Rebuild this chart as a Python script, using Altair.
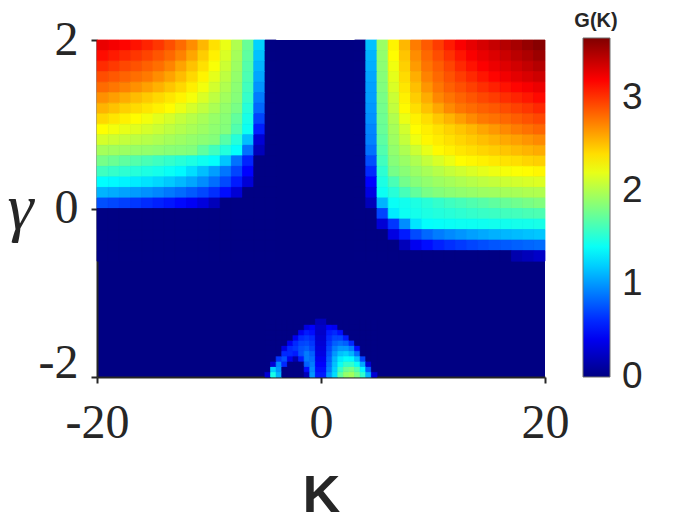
import altair as alt
import pandas as pd

# ---- grid cell centres -------------------------------------------------
K_LEFT = [-19.5, -18.5, -17.5, -16.5, -15.5, -14.5, -13.5, -12.5,
          -11.5, -10.5, -9.5, -8.5, -7.5, -6.5, -5.5, -4.5]
K_RIGHT = [3.5, 4.5, 5.5, 6.5, 7.5, 8.5, 9.5, 10.5, 11.5, 12.5,
           13.5, 14.5, 15.5, 16.5, 17.5, 18.5, 19.5]
GAMMA_MAIN = [1.9375, 1.8125, 1.6875, 1.5625, 1.4375, 1.3125, 1.1875,
              1.0625, 0.9375, 0.8125, 0.6875, 0.5625, 0.4375, 0.3125,
              0.1875, 0.0625, -0.0625, -0.1875, -0.3125, -0.4375, -0.5625]
K_ARCH = [-4.75, -4.25, -3.75, -3.25, -2.75, -2.25, -1.75, -1.25, -0.75, -0.25,
          0.25, 0.75, 1.25, 1.75, 2.25, 2.75, 3.25, 3.75, 4.25, 4.75]
GAMMA_ARCH = [-1.96875, -1.90625, -1.84375, -1.78125, -1.71875, -1.65625,
              -1.59375, -1.53125, -1.46875, -1.40625, -1.34375]

# ---- G(K) values -------------------------------------------------------
G_LEFT = [
    [3.27, 3.23, 3.18, 3.13, 3.07, 3.0, 2.91, 2.81, 2.69, 2.54, 2.39, 2.21, 2.0, 1.74, 1.21, 0],
    [3.15, 3.1, 3.05, 3.0, 2.95, 2.89, 2.82, 2.73, 2.6, 2.46, 2.33, 2.15, 1.96, 1.71, 1.15, 0],
    [3.04, 2.99, 2.94, 2.9, 2.85, 2.8, 2.72, 2.61, 2.5, 2.39, 2.26, 2.1, 1.93, 1.67, 1.1, 0],
    [2.92, 2.88, 2.84, 2.8, 2.76, 2.69, 2.61, 2.52, 2.42, 2.32, 2.19, 2.05, 1.9, 1.64, 1.05, 0],
    [2.81, 2.77, 2.73, 2.68, 2.62, 2.56, 2.49, 2.42, 2.34, 2.24, 2.12, 2.0, 1.87, 1.6, 0.99, 0],
    [2.68, 2.63, 2.58, 2.52, 2.47, 2.42, 2.37, 2.32, 2.25, 2.15, 2.05, 1.95, 1.85, 1.56, 0.9, 0],
    [2.55, 2.5, 2.45, 2.41, 2.37, 2.33, 2.29, 2.21, 2.13, 2.06, 1.98, 1.9, 1.8, 1.5, 0.83, 0],
    [2.42, 2.37, 2.33, 2.29, 2.24, 2.18, 2.13, 2.07, 2.02, 1.97, 1.91, 1.86, 1.72, 1.45, 0.7, 0],
    [2.28, 2.24, 2.2, 2.17, 2.13, 2.09, 2.05, 2.01, 1.97, 1.93, 1.88, 1.84, 1.66, 1.41, 0.56, 0],
    [2.13, 2.1, 2.07, 2.04, 2.02, 1.99, 1.96, 1.93, 1.9, 1.87, 1.84, 1.68, 1.5, 1.14, 0.3, 0],
    [1.96, 1.94, 1.93, 1.91, 1.9, 1.88, 1.86, 1.85, 1.83, 1.71, 1.6, 1.49, 1.38, 0.86, 0.2, 0],
    [1.79, 1.75, 1.71, 1.67, 1.63, 1.59, 1.55, 1.51, 1.47, 1.42, 1.38, 1.16, 0.86, 0.58, 0, 0],
    [1.59, 1.56, 1.53, 1.5, 1.47, 1.44, 1.4, 1.35, 1.25, 1.14, 1.02, 0.88, 0.7, 0.46, 0, 0],
    [1.37, 1.35, 1.33, 1.3, 1.27, 1.23, 1.18, 1.12, 1.05, 0.96, 0.85, 0.72, 0.55, 0.3, 0, 0],
    [1.1, 1.07, 1.04, 1.01, 0.98, 0.94, 0.89, 0.84, 0.78, 0.71, 0.62, 0.5, 0.3, 0, 0, 0],
    [0.74, 0.71, 0.68, 0.65, 0.61, 0.57, 0.53, 0.48, 0.42, 0.33, 0.2, 0, 0, 0, 0, 0],
    [0] * 16,
    [0] * 16,
    [0] * 16,
    [0] * 16,
    [0] * 16,
]

G_RIGHT = [
    [0, 1.15, 1.92, 2.32, 2.54, 2.75, 2.87, 2.98, 3.1, 3.21, 3.28, 3.34, 3.4, 3.46, 3.51, 3.57, 3.62],
    [0, 1.1, 1.89, 2.29, 2.49, 2.69, 2.82, 2.92, 3.02, 3.12, 3.21, 3.27, 3.32, 3.38, 3.44, 3.49, 3.55],
    [0, 1.08, 1.87, 2.23, 2.45, 2.64, 2.78, 2.86, 2.95, 3.05, 3.13, 3.2, 3.26, 3.31, 3.36, 3.41, 3.46],
    [0, 1.05, 1.85, 2.19, 2.41, 2.57, 2.73, 2.82, 2.9, 2.98, 3.05, 3.12, 3.18, 3.24, 3.29, 3.33, 3.37],
    [0, 1.03, 1.83, 2.15, 2.37, 2.51, 2.66, 2.77, 2.85, 2.91, 2.97, 3.03, 3.08, 3.13, 3.18, 3.22, 3.26],
    [0, 1.02, 1.8, 2.09, 2.33, 2.46, 2.58, 2.71, 2.78, 2.84, 2.89, 2.94, 2.98, 3.03, 3.07, 3.11, 3.16],
    [0, 1.0, 1.78, 2.06, 2.3, 2.4, 2.5, 2.6, 2.7, 2.77, 2.81, 2.85, 2.88, 2.92, 2.96, 3.0, 3.05],
    [0, 0.98, 1.76, 2.0, 2.21, 2.33, 2.4, 2.48, 2.55, 2.63, 2.7, 2.76, 2.79, 2.82, 2.86, 2.9, 2.94],
    [0, 0.94, 1.74, 1.96, 2.12, 2.29, 2.34, 2.39, 2.44, 2.49, 2.54, 2.6, 2.65, 2.7, 2.75, 2.79, 2.83],
    [0, 0.92, 1.7, 1.93, 2.07, 2.22, 2.31, 2.35, 2.39, 2.43, 2.47, 2.51, 2.55, 2.59, 2.62, 2.66, 2.7],
    [0, 0.86, 1.66, 1.89, 1.99, 2.1, 2.2, 2.3, 2.33, 2.37, 2.4, 2.43, 2.46, 2.49, 2.52, 2.55, 2.58],
    [0, 0.73, 1.6, 1.85, 1.92, 1.99, 2.07, 2.14, 2.21, 2.29, 2.31, 2.33, 2.36, 2.38, 2.4, 2.43, 2.45],
    [0, 0.6, 1.53, 1.79, 1.86, 1.92, 1.97, 2.02, 2.07, 2.11, 2.15, 2.19, 2.22, 2.25, 2.27, 2.29, 2.31],
    [0, 0.46, 1.47, 1.63, 1.78, 1.85, 1.89, 1.93, 1.96, 1.99, 2.02, 2.05, 2.07, 2.1, 2.12, 2.14, 2.16],
    [0, 0.35, 1.41, 1.51, 1.62, 1.72, 1.8, 1.84, 1.87, 1.89, 1.91, 1.93, 1.94, 1.96, 1.97, 1.99, 2.0],
    [0, 0.2, 1.1, 1.4, 1.43, 1.47, 1.51, 1.55, 1.59, 1.62, 1.65, 1.68, 1.71, 1.74, 1.77, 1.8, 1.83],
    [0, 0, 0.7, 1.3, 1.41, 1.44, 1.47, 1.49, 1.51, 1.53, 1.55, 1.57, 1.58, 1.6, 1.61, 1.63, 1.64],
    [0, 0, 0.3, 0.65, 0.96, 1.28, 1.38, 1.39, 1.4, 1.41, 1.41, 1.42, 1.43, 1.43, 1.44, 1.44, 1.45],
    [0, 0, 0, 0.35, 0.55, 0.72, 0.83, 0.9, 0.95, 0.99, 1.03, 1.06, 1.09, 1.11, 1.13, 1.15, 1.17],
    [0, 0, 0, 0, 0.2, 0.4, 0.5, 0.57, 0.62, 0.66, 0.7, 0.73, 0.76, 0.78, 0.8, 0.82, 0.84],
    [0, 0, 0, 0, 0, 0, 0, 0, 0, 0, 0, 0, 0, 0, 0.15, 0.2, 0.25],
]

G_ARCH = [
    [0.3, 1.45, 1.1, 0, 0, 0, 0, 0.2, 1.0, 0.55, 0.55, 1.0, 1.25, 1.7, 1.9, 1.95, 1.8, 1.55, 1.1, 0.3],
    [0, 1.2, 1.0, 0, 0, 0, 0, 0.5, 0.95, 0.5, 0.5, 0.9, 1.2, 1.55, 1.75, 1.8, 1.65, 1.35, 0.8, 0],
    [0, 0.3, 0.95, 0.6, 0, 0, 0, 0.8, 0.9, 0.45, 0.45, 0.85, 1.15, 1.4, 1.55, 1.55, 1.4, 1.05, 0.3, 0],
    [0, 0, 0.65, 0.75, 0.4, 0.15, 0.55, 0.9, 0.85, 0.4, 0.4, 0.8, 1.1, 1.3, 1.38, 1.35, 1.15, 0.7, 0, 0],
    [0, 0, 0, 0.6, 0.6, 0.55, 0.75, 0.9, 0.8, 0.35, 0.35, 0.75, 1.0, 1.15, 1.2, 1.1, 0.85, 0, 0, 0],
    [0, 0, 0, 0.35, 0.6, 0.65, 0.75, 0.8, 0.7, 0.33, 0.33, 0.7, 0.9, 1.0, 1.0, 0.9, 0.5, 0, 0, 0],
    [0, 0, 0, 0, 0.4, 0.6, 0.7, 0.72, 0.65, 0.3, 0.3, 0.65, 0.8, 0.85, 0.8, 0.6, 0, 0, 0, 0],
    [0, 0, 0, 0, 0, 0.4, 0.6, 0.65, 0.6, 0.28, 0.28, 0.6, 0.7, 0.7, 0.55, 0, 0, 0, 0, 0],
    [0, 0, 0, 0, 0, 0, 0.4, 0.55, 0.5, 0.25, 0.25, 0.55, 0.6, 0.5, 0, 0, 0, 0, 0, 0],
    [0, 0, 0, 0, 0, 0, 0, 0.35, 0.45, 0.25, 0.25, 0.45, 0.4, 0, 0, 0, 0, 0, 0, 0],
    [0, 0, 0, 0, 0, 0, 0, 0, 0, 0.2, 0.2, 0, 0, 0, 0, 0, 0, 0, 0, 0],
]

# jet colour map: stop values of G and their colours
JET_DOMAIN = [-0.005, 0.45625, 1.36875, 2.28125, 3.19375, 3.65]
JET_DOMAIN_EDGE = [-0.005, 0.456, 1.369, 2.281, 3.194, 3.65]   # same map, for cell edges
JET_COLORS = ["#000083", "#0000ff", "#00ffff", "#ffff00", "#ff0000", "#800000"]
COLORBAR_TICKS = [0, 1, 2, 3]

# ---- build the table -----------------------------------------------------
rows = []


def add_block(ks, gs, vals, hk, hg):
    for gi, g in enumerate(gs):
        for ki, k in enumerate(ks):
            v = vals[gi][ki]
            rows.append({"k0": k - hk, "k1": k + hk, "g0": g - hg, "g1": g + hg,
                         "G": v, "Gedge": v})


add_block(K_LEFT, GAMMA_MAIN, G_LEFT, 0.5, 0.0625)
add_block(K_RIGHT, GAMMA_MAIN, G_RIGHT, 0.5, 0.0625)
add_block(K_ARCH, GAMMA_ARCH, G_ARCH, 0.25, 0.03125)
df = pd.DataFrame(rows)

INK = "#262626"
jet = alt.Scale(domain=JET_DOMAIN, range=JET_COLORS, interpolate="rgb", clamp=True)
jet_stroke = alt.Scale(domain=JET_DOMAIN_EDGE, range=JET_COLORS, interpolate="rgb", clamp=True)

y_label_baseline = {"condition": {"test": "datum.value == -2", "value": "alphabetic"},
                    "value": "middle"}

chart = alt.Chart(df).mark_rect(strokeWidth=0.8).encode(
    x=alt.X("k0:Q", scale=alt.Scale(domain=[-20, 20], nice=False, zero=False),
            axis=alt.Axis(values=[-20, 0, 20], labelExpr="'' + datum.value",
                          labelFont="Liberation Serif", labelFontSize=48, labelColor=INK,
                          labelBaseline="alphabetic", labelPadding=54, labelFlush=False,
                          labelOverlap=False,
                          tickSize=6, tickWidth=2, tickColor=INK,
                          domainColor=INK, domainWidth=2, grid=False,
                          title="K", titleFont="Liberation Sans", titleFontWeight="bold",
                          titleFontSize=52, titleColor=INK, titleX=224, titleY=134,
                          titleAlign="center", titleBaseline="alphabetic")),
    x2="k1:Q",
    y=alt.Y("g0:Q", scale=alt.Scale(domain=[-2, 2], nice=False, zero=False),
            axis=alt.Axis(values=[-2, 0, 2], labelExpr="'' + datum.value",
                          labelFont="Liberation Serif", labelFontSize=48, labelColor=INK,
                          labelBaseline=y_label_baseline, labelPadding=13, labelFlush=False,
                          labelOverlap=False,
                          tickSize=6, tickWidth=2, tickColor=INK,
                          domainColor=INK, domainWidth=2, grid=False,
                          title="γ", titleFont="Liberation Serif", titleFontStyle="italic",
                          titleFontWeight="normal", titleFontSize=66, titleColor=INK,
                          titleAngle=0, titleX=-77, titleY=188, titleAlign="center",
                          titleBaseline="alphabetic")),
    y2="g1:Q",
    color=alt.Color("G:Q", scale=jet,
                    legend=alt.Legend(type="gradient", orient="none", legendX=486, legendY=-2,
                                      direction="vertical", title=None,
                                      gradientLength=339, gradientThickness=27,
                                      gradientStrokeColor="#6e6e6e", gradientStrokeWidth=1,
                                      values=COLORBAR_TICKS, format="d",
                                      labelFont="Liberation Sans", labelBaseline="middle",
                                      labelFontSize=37, labelColor=INK, labelOffset=12,
                                      labelOverlap=False)),
    stroke=alt.Stroke("Gedge:Q", scale=jet_stroke, legend=None),
).properties(
    width=448, height=337,
    autosize=alt.AutoSizeParams(type="none"),
    padding={"left": 89, "top": 32, "right": 147, "bottom": 145},
    title=alt.TitleParams("G(K)", anchor="start", align="center", dx=499, dy=31,
                          frame="group", font="Liberation Sans", fontWeight="bold",
                          fontSize=20, color=INK, baseline="alphabetic", offset=0),
).configure_view(stroke=None, fill="#000083")

chart.save("out.html", embed_options={"renderer": "svg", "actions": False})
